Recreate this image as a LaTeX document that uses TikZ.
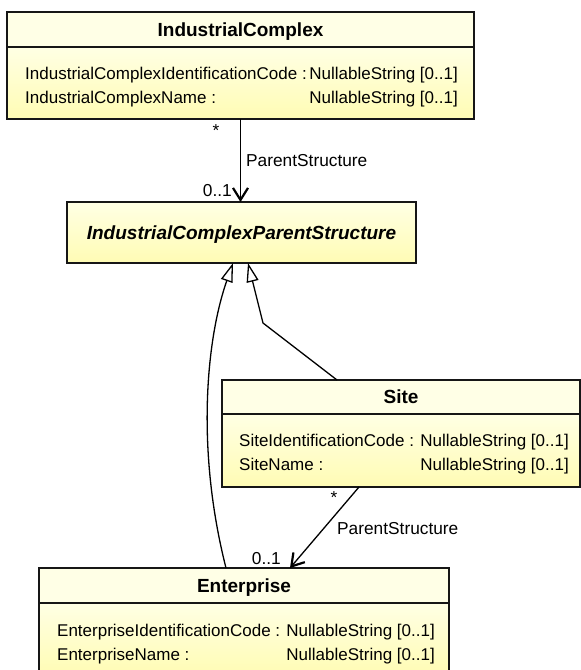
\documentclass[tikz,border=0pt]{standalone}
\usepackage{fontspec}
\setmainfont{Liberation Sans}
\usetikzlibrary{arrows.meta}

\definecolor{hdr}{RGB}{255,255,230}
\definecolor{bodytop}{RGB}{255,255,228}
\definecolor{bodybot}{RGB}{255,252,180}
\definecolor{edge}{RGB}{22,22,22}

\tikzset{
  part/.style={draw=edge, line width=1.6pt, anchor=north west, inner sep=0pt, outer sep=0pt},
  head/.style={part, fill=hdr},
  body/.style={part, top color=bodytop, bottom color=bodybot},
  title/.style={font=\fontsize{19}{22}\selectfont\bfseries, inner sep=0pt, text height=13.6pt, text depth=0pt},
  attr/.style={font=\fontsize{17}{20}\selectfont, inner sep=0pt, text height=12pt, text depth=0pt, anchor=west},
  typ/.style={attr, anchor=east},
  lbl/.style={font=\fontsize{17.3}{20}\selectfont, inner sep=0pt, text height=12pt, text depth=0pt},
  assoc/.style={draw=black, line width=1.3pt, -{Straight Barb[length=12pt,width=15pt,line width=2.2pt]}},
  gen/.style={draw=black, line width=1.3pt, -{Triangle[open, length=19pt, width=12pt, fill=white, line width=1.3pt]}},
}

\begin{document}
\begin{tikzpicture}[x=1pt, y=-1pt]
\useasboundingbox (0,0) rectangle (581,670);

% IndustrialComplex
\node[head, minimum width=467pt, minimum height=35pt] (icH) at (7,12) {};
\node[body, minimum width=467pt, minimum height=72pt] (icB) at (7,47) {};
\node[title] (icT) at (icH.center) {IndustrialComplex};
\node[attr] (icA1) at (25,73) {IndustrialComplexIdentificationCode :};
\node[typ]  (icY1) at (458,73) {NullableString [0..1]};
\node[attr] (icA2) at (25,97) {IndustrialComplexName :};
\node[typ]  (icY2) at (458,97) {NullableString [0..1]};

% IndustrialComplexParentStructure (abstract)
\node[body, minimum width=349pt, minimum height=61pt] (ps) at (67,202) {};
\node[title, font=\fontsize{19}{22}\selectfont\bfseries\itshape] (psT) at (ps.center) {IndustrialComplexParentStructure};

% Site
\node[head, minimum width=358pt, minimum height=34pt] (siteH) at (222,380) {};
\node[body, minimum width=358pt, minimum height=73pt] (siteB) at (222,414) {};
\node[title] (siteT) at (siteH.center) {Site};
\node[attr] (siteA1) at (239,440) {SiteIdentificationCode :};
\node[typ]  (siteY1) at (569,440) {NullableString [0..1]};
\node[attr] (siteA2) at (239,464) {SiteName :};
\node[typ]  (siteY2) at (569,464) {NullableString [0..1]};

% Enterprise
\node[head, minimum width=410pt, minimum height=35pt] (entH) at (39,568) {};
\node[body, minimum width=410pt, minimum height=72pt] (entB) at (39,603) {};
\node[title] (entT) at (entH.center) {Enterprise};
\node[attr] (entA1) at (57,630) {EnterpriseIdentificationCode :};
\node[typ]  (entY1) at (435,630) {NullableString [0..1]};
\node[attr] (entA2) at (57,654) {EnterpriseName :};
\node[typ]  (entY2) at (435,654) {NullableString [0..1]};

% IndustrialComplex -> ParentStructure
\draw[assoc] (icB.south) -- (icB.south |- ps.north);
\node[lbl] (m1) at (216,130) {*};
\node[lbl, anchor=west] (r1) at (246,160) {ParentStructure};
\node[lbl, anchor=east] (n1) at (232,190) {0..1};

% Site -> Enterprise
\draw[assoc] ([xshift=-42pt]siteB.south) -- ([xshift=46pt]entH.north);
\node[lbl] (m2) at (334,497) {*};
\node[lbl, anchor=west] (r2) at (337,528) {ParentStructure};
\node[lbl, anchor=east] (n2) at (281,558) {0..1};

% generalizations
\coordinate (sBend) at (263,323);
\draw[gen] ([xshift=-64pt]siteH.north) -- (sBend) -- ([xshift=6.5pt]ps.south);
\draw[gen] ([xshift=-18pt]entH.north) .. controls (196,450) and (206,340) .. ([xshift=-8.5pt]ps.south);
\end{tikzpicture}
\end{document}
